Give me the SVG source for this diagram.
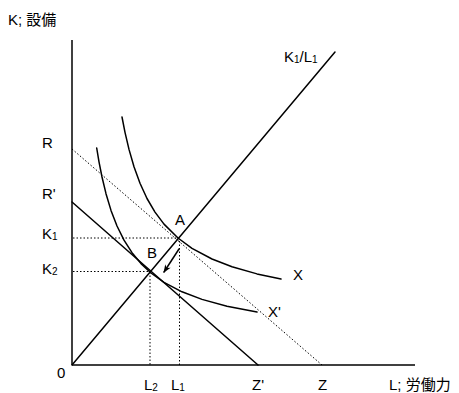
<svg xmlns="http://www.w3.org/2000/svg" width="459" height="393" viewBox="0 0 459 393">
<defs>
<style>
.ax{stroke:#000;stroke-width:1.5;fill:none}
.ln{stroke:#000;stroke-width:1.5;fill:none;stroke-linejoin:round;stroke-linecap:round}
.dot{stroke:#000;stroke-width:1;fill:none;stroke-dasharray:1.5 2}
.t{font-family:"Liberation Sans","Noto Sans CJK JP",sans-serif;font-size:15px;fill:#000}
.s{font-size:10px}
</style>
<marker id="ah" viewBox="0 0 10 10" refX="9" refY="5" markerWidth="10" markerHeight="8" markerUnits="userSpaceOnUse" orient="auto">
<path d="M0,1 L10,5 L0,9 L3,5 Z" fill="#000"/>
</marker>
</defs>
<rect width="459" height="393" fill="#fff"/>
<g id="axes">
<line class="ax" x1="72" y1="40" x2="72" y2="365"/>
<line class="ax" x1="72" y1="365" x2="415" y2="365"/>
</g>
<g id="connectors">
<line class="dot" x1="72" y1="149" x2="322" y2="365"/>
<line class="dot" x1="73" y1="238" x2="177" y2="238"/>
<line class="dot" x1="73" y1="271.5" x2="150" y2="271.5"/>
<line class="dot" x1="150" y1="272" x2="150" y2="365"/>
<line class="dot" x1="179.5" y1="241" x2="179.5" y2="365"/>
<line class="ln" x1="72" y1="365" x2="335" y2="52"/>
<line class="ln" x1="72" y1="202" x2="258" y2="365"/>
<line class="ln" x1="179" y1="249" x2="164" y2="272" stroke-width="1.3" marker-end="url(#ah)"/>
</g>
<g id="curve-X">
<polyline class="ln" points="122,117 125,132.3 129,149.4 134,166.7 140,183.3 147,198.5 155,212.1 164,224.1 178,238 192,248.3 212,259 232,266.7 257,273.9 281,279"/>
</g>
<g id="curve-X2">
<polyline class="ln" points="96.7,148 99,161.8 102,177 106,193.7 111,210.4 117,226 124,240.2 132,252.7 141,263.6 151,273 164,282.3 182,291.8 202,299.4 227,306.2 257,312"/>
</g>
<g id="labels">
<text class="t" x="8" y="25">K; 設備</text>
<text class="t" x="284" y="62">K<tspan class="s" dy="1">1</tspan><tspan dy="-1">/L</tspan><tspan class="s" dy="1">1</tspan></text>
<text class="t" x="42" y="148">R</text>
<text class="t" x="42" y="199">R'</text>
<text class="t" x="42" y="239">K<tspan class="s" dy="1">1</tspan></text>
<text class="t" x="42" y="274">K<tspan class="s" dy="1">2</tspan></text>
<text class="t" x="175" y="225">A</text>
<text class="t" x="147" y="258">B</text>
<text class="t" x="293" y="280">X</text>
<text class="t" x="268" y="317">X'</text>
<text class="t" x="57" y="378">0</text>
<text class="t" x="144" y="390">L<tspan class="s" dy="1">2</tspan></text>
<text class="t" x="171" y="390">L<tspan class="s" dy="1">1</tspan></text>
<text class="t" x="252" y="390">Z'</text>
<text class="t" x="318" y="390">Z</text>
<text class="t" x="389" y="390">L; 労働力</text>
</g>
</svg>
